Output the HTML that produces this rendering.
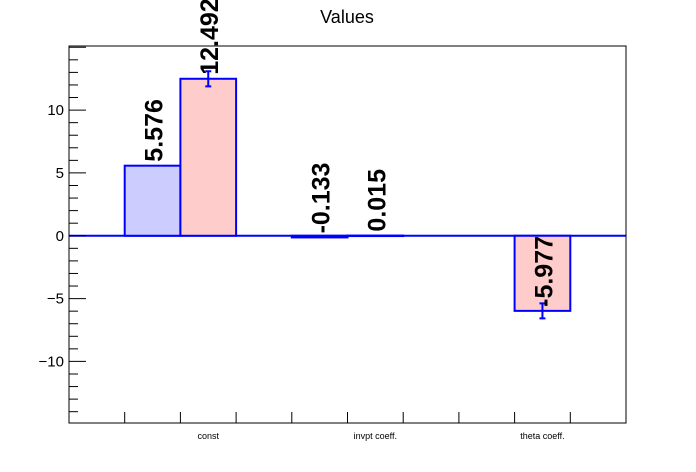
<!DOCTYPE html>
<html><head><meta charset="utf-8"><style>
body{margin:0;background:#fff}
svg{display:block;font-family:"Liberation Sans",Arial,sans-serif}
</style></head><body>
<svg id="c" width="696" height="472" viewBox="0 0 696 472">
<rect x="0" y="0" width="696" height="472" fill="#fff"/>
<text x="347" y="23" font-size="18" text-anchor="middle">Values</text>
<g id="plot"></g>
</svg>
<script>
const categories=["const","invpt coeff.","theta coeff."];
const seriesA=[5.576,-0.133,0];
const seriesB=[12.492,0.015,-5.977];
const errorsB=[0.6,0,0.6];
const yTicks=[-10,-5,0,5,10];
const NS="http://www.w3.org/2000/svg";
const L=69,R=626,T=46,B=423,yMin=-14.9,yMax=15.1,nBins=10;
const bw=(R-L)/nBins;
function ys(v){return B-(v-yMin)/(yMax-yMin)*(B-T);}
function xs(i){return L+i*bw;}
const g=document.getElementById('plot');
function mk(t,a,p){const e=document.createElementNS(NS,t);for(const k in a)e.setAttribute(k,a[k]);(p||g).appendChild(e);return e;}
// baseline
const base=mk('line',{x1:L,x2:R,y1:ys(0),y2:ys(0),stroke:'#0000ff','stroke-width':2});


function bar(bin,v,fill,name,err){
  const y0=ys(0),y1=ys(v);
  const r=mk('rect',{x:xs(bin),y:Math.min(y0,y1),width:bw,height:Math.max(Math.abs(y1-y0),0.5),fill:fill,stroke:'#0000ff','stroke-width':2});
  
  
  if(err){
    const cx=xs(bin)+bw/2;
    const e=mk('path',{d:`M${cx},${ys(v+err)}V${ys(v-err)}M${cx-3},${ys(v+err)}H${cx+3}M${cx-3},${ys(v-err)}H${cx+3}`,stroke:'#0000ff','stroke-width':2,fill:'none'});
    
    
  }
  const tx=xs(bin)+bw/2+10,ty=ys(v)-4;
  const t=mk('text',{x:tx,y:ty,transform:`rotate(-90 ${tx} ${ty})`,'font-size':25,'font-weight':'bold'});
  t.textContent=v.toFixed(3);
  
  
}
for(let i=0;i<categories.length;i++){
  if(seriesA[i]!==0) bar(1+3*i,seriesA[i],'#ccccff','bar-a-'+i,0);
  bar(2+3*i,seriesB[i],'#ffcccc','bar-b-'+i,errorsB[i]);
  const lb=mk('text',{x:xs(2+3*i)-bw/2+bw/2+ (i===0?0:0),y:439,'font-size':9,'text-anchor':'middle'});
  lb.setAttribute('x',xs(1+3*i)+bw*1.5);
  lb.textContent=categories[i];
  
  
}
// frame
const fr=mk('rect',{x:L,y:T,width:R-L,height:B-T,fill:'none',stroke:'#000','stroke-width':1});


// y ticks
for(let v=-14;v<=15;v++){
  const major=v%5===0;
  const t=mk('line',{x1:L,x2:L+(major?17:9),y1:ys(v),y2:ys(v),stroke:'#000','stroke-width':1});
  
  
}
yTicks.forEach(v=>{
  const t=mk('text',{x:L-5,y:ys(v)+5,'font-size':15,'text-anchor':'end'});
  t.textContent=v<0?'\u2212'+Math.abs(v):String(v);
  
  
});
for(let i=1;i<nBins;i++){
  const t=mk('line',{x1:xs(i),x2:xs(i),y1:B,y2:B-11,stroke:'#000','stroke-width':1});
  
  
}
</script>
</body></html>
